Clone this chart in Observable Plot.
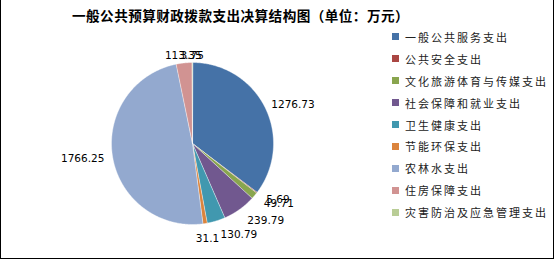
<!DOCTYPE html>
<html>
<head>
<meta charset="utf-8">
<script src="https://cdn.jsdelivr.net/npm/d3@7"></script>
<script src="https://cdn.jsdelivr.net/npm/@observablehq/plot@0.6"></script>
<style>
  html, body { margin: 0; padding: 0; background: #fff; }
  #wrap { position: relative; width: 555px; height: 260px; overflow: hidden; }
  #frame { position: absolute; left: 0; top: -1px; width: 552px; height: 258px; border: 1px solid #000; pointer-events: none; }
  #title { position: absolute; left: 72px; top: 6px; font-family: "Noto Sans CJK SC", sans-serif; font-weight: 700; font-size: 13.6px; letter-spacing: 0.45px; color: #000; white-space: nowrap; line-height: 18px; }
  #legend { position: absolute; left: 392px; top: 26px; font-family: "Noto Sans CJK SC", sans-serif; font-size: 11px; letter-spacing: 2px; color: #222; }
  .item { display: flex; align-items: center; height: 21.9px; white-space: nowrap; }
  .sw { width: 7px; height: 7px; margin-right: 6px; flex: none; }
  svg { position: absolute; left: 0; top: 0; }
</style>
</head>
<body>
<div id="wrap">
  <div id="title">一般公共预算财政拨款支出决算结构图（单位：万元）</div>
  <div id="legend"></div>
  <div id="frame"></div>
</div>
<script>
const categories = ["一般公共服务支出", "公共安全支出", "文化旅游体育与传媒支出", "社会保障和就业支出", "卫生健康支出", "节能环保支出", "农林水支出", "住房保障支出", "灾害防治及应急管理支出"];
const values = [1276.73, 5.69, 49.71, 239.79, 130.79, 31.1, 1766.25, 113.35, 3.75];
const valueLabels = ["1276.73", "5.69", "49.71", "239.79", "130.79", "31.1", "1766.25", "113.35", "3.75"];
const colors = ["#4572A7", "#AA4643", "#89A54E", "#71588F", "#4198AF", "#DB843D", "#93A9CF", "#D19392", "#B9CD96"];

const total = d3.sum(values);
const slices = [];
let acc = 0;
values.forEach((v, i) => {
  const a0 = acc / total * 2 * Math.PI;
  acc += v;
  const a1 = acc / total * 2 * Math.PI;
  slices.push({cat: categories[i], a0, a1, mid: (a0 + a1) / 2, label: valueLabels[i]});
});

// polygon points for each slice (angle from top, clockwise)
const pts = [];
for (const s of slices) {
  pts.push({cat: s.cat, x: 0, y: 0});
  const n = Math.max(2, Math.ceil((s.a1 - s.a0) / (Math.PI / 360)));
  for (let k = 0; k <= n; k++) {
    const a = s.a0 + (s.a1 - s.a0) * k / n;
    pts.push({cat: s.cat, x: Math.sin(a), y: Math.cos(a)});
  }
}

// label placement: outside end; labels below the centre sit a little further out
const labels = slices.map(s => {
  const sx = Math.sin(s.mid), cy = Math.cos(s.mid);
  const r = (88 + 8 * Math.max(0, -cy)) / 81;
  const anchor = Math.abs(sx) < 0.2 ? "middle" : (sx > 0 ? "start" : "end");
  return {x: sx * r, y: cy * r, label: s.label, anchor};
});

const textOpts = a => ({x: "x", y: "y", text: "label", textAnchor: a, fontFamily: "DejaVu Sans", fontSize: 10.5, fill: "#000"});

const plot = Plot.plot({
  width: 555,
  height: 260,
  style: {background: "transparent", overflow: "visible"},
  x: {domain: [-1, 1], range: [111, 273], axis: null},
  y: {domain: [-1, 1], range: [224, 62], axis: null},
  color: {domain: categories, range: colors},
  marks: [
    Plot.line(pts, {x: "x", y: "y", z: "cat", fill: "cat", stroke: "#fff", strokeWidth: 0.4, curve: "linear-closed"}),
    Plot.text(labels.filter(d => d.anchor === "start"), textOpts("start")),
    Plot.text(labels.filter(d => d.anchor === "end"), textOpts("end")),
    Plot.text(labels.filter(d => d.anchor === "middle"), textOpts("middle"))
  ]
});
const wrap = document.getElementById("wrap");
wrap.insertBefore(plot, wrap.firstChild);

const color = plot.scale("color");
const legend = document.getElementById("legend");
categories.forEach((c, i) => {
  const item = document.createElement("div");
  item.className = "item";
  const sw = document.createElement("span");
  sw.className = "sw";
  sw.style.background = color.range[color.domain.indexOf(c)];
  const t = document.createElement("span");
  t.textContent = c;
  item.appendChild(sw);
  item.appendChild(t);
  legend.appendChild(item);
});
</script>
</body>
</html>
